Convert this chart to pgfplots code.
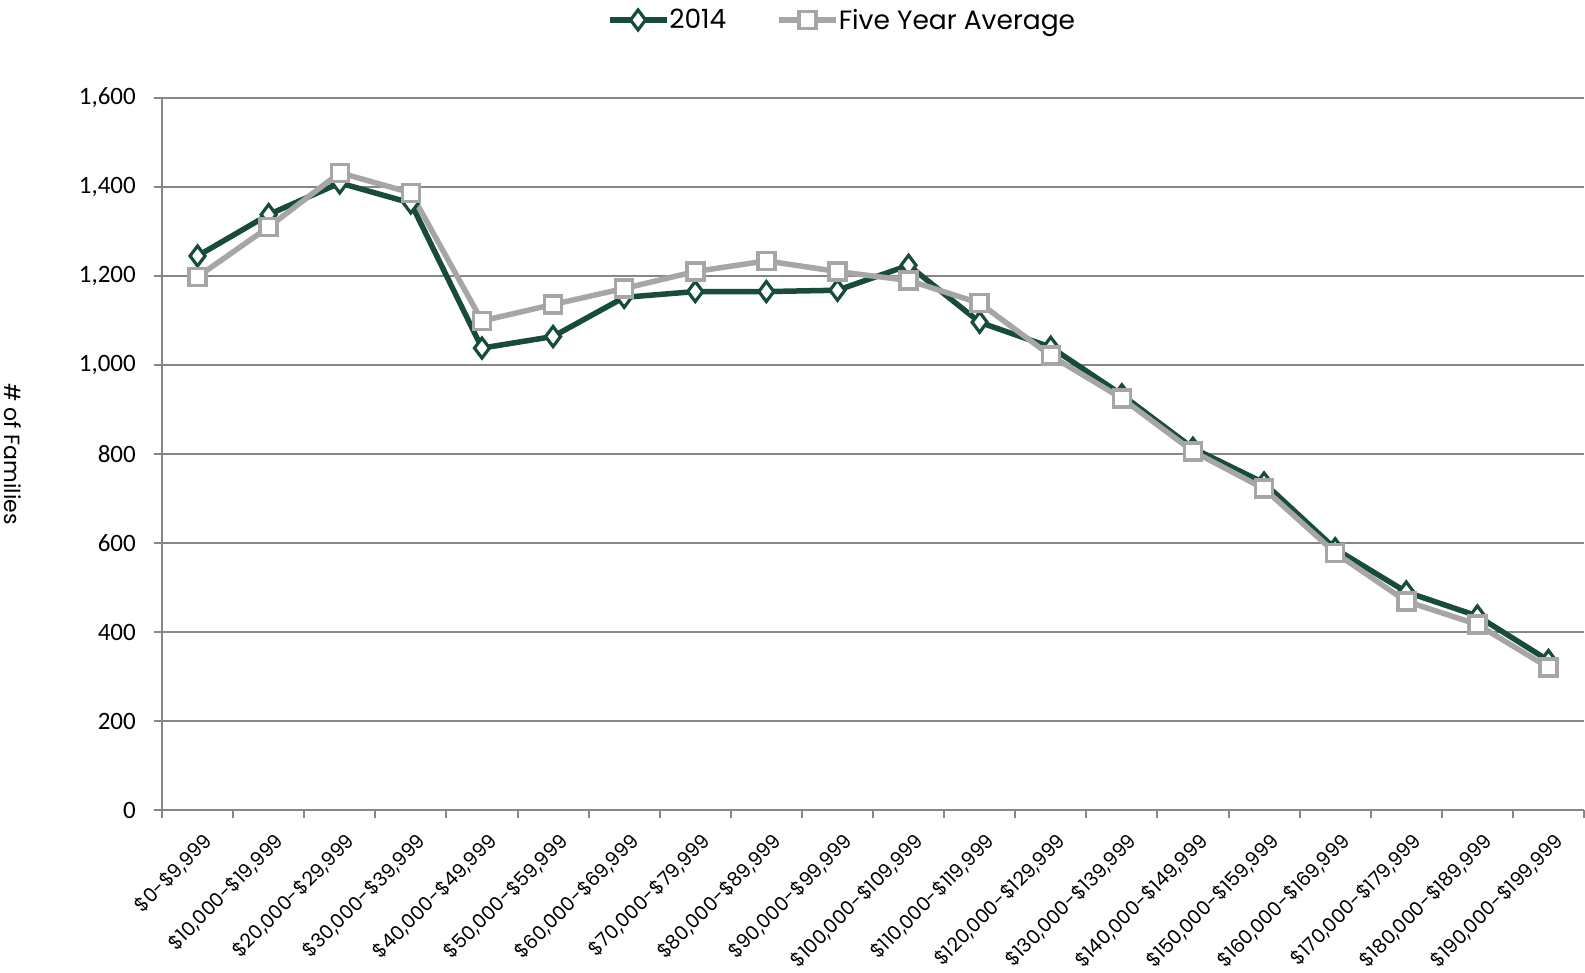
\documentclass[border=0pt]{standalone}
\usepackage{pgfplots}
\pgfplotsset{compat=1.18}
\usepackage{fontspec}
\setmainfont{Poppins}
\newfontfamily\calib{Carlito}
\definecolor{dkgreen}{RGB}{23,75,58}
\definecolor{ltgray}{RGB}{166,166,166}
\definecolor{gridgray}{RGB}{134,134,134}
\begin{document}
\begin{tikzpicture}
\useasboundingbox (0,0) rectangle (1585pt,972pt);
\begin{axis}[
  at={(162pt,162pt)}, anchor=south west,
  scale only axis, width=1422pt, height=712pt,
  xmin=-0.5, xmax=19.5, ymin=0, ymax=1600,
  axis x line*=bottom, axis y line*=left,
  axis line style={gridgray, line width=2pt},
  tick style={gridgray, line width=2pt},
  major tick length=8pt,
  tick align=outside,
  ymajorgrids,
  major grid style={gridgray, line width=2pt},
  ytick={0,200,400,600,800,1000,1200,1400,1600},
  yticklabels={0,200,400,600,800,{1,000},{1,200},{1,400},{1,600}},
  yticklabel style={font=\calib\fontsize{25}{25}\selectfont, anchor=east, inner sep=0pt, xshift=-18pt},
  xtick={-0.5,0.5,...,19.5},
  x tick label as interval,
  xticklabels={{\$0-\$9,999},{\$10,000-\$19,999},{\$20,000-\$29,999},{\$30,000-\$39,999},{\$40,000-\$49,999},{\$50,000-\$59,999},{\$60,000-\$69,999},{\$70,000-\$79,999},{\$80,000-\$89,999},{\$90,000-\$99,999},{\$100,000-\$109,999},{\$110,000-\$119,999},{\$120,000-\$129,999},{\$130,000-\$139,999},{\$140,000-\$149,999},{\$150,000-\$159,999},{\$160,000-\$169,999},{\$170,000-\$179,999},{\$180,000-\$189,999},{\$190,000-\$199,999}},
  xticklabel style={font=\fontsize{19.5}{19.5}\selectfont, rotate=45, anchor=north east, inner sep=0pt, yshift=-13pt, xshift=-6pt},
  ylabel={\# of Families},
  ylabel style={font=\fontsize{22}{22}\selectfont, rotate=180, at={(axis description cs:-0.1048,0.5)}, anchor=center},
  legend style={draw=none, fill=none, font=\fontsize{26.5}{26.5}\selectfont,
    at={(axis description cs:0.4775,1.1096)}, anchor=center,
    legend columns=2, nodes={inner xsep=0pt},
    /tikz/every even column/.append style={column sep=50pt}},
  legend image code/.code={
    \draw[#1, mark repeat=2, mark phase=2] plot coordinates {(0pt,0pt) (28.5pt,0pt) (57pt,0pt)};
  },
]
\addplot[color=dkgreen, line width=5.5pt, mark=diamond*, mark size=10pt,
  mark options={fill=white, line width=3.2pt}]
  coordinates {(0,1245) (1,1338) (2,1409) (3,1364) (4,1038) (5,1064) (6,1152) (7,1165) (8,1165) (9,1168) (10,1224) (11,1096) (12,1040) (13,933) (14,813) (15,735) (16,587) (17,490) (18,436) (19,336)};
\addlegendentry{2014}
\addplot[color=ltgray, line width=5.5pt, mark=square*, mark size=8.5pt,
  mark options={fill=white, line width=3.5pt}]
  coordinates {(0,1198) (1,1310) (2,1432) (3,1387) (4,1099) (5,1136) (6,1172) (7,1210) (8,1234) (9,1210) (10,1190) (11,1139) (12,1021) (13,925) (14,806) (15,722) (16,578) (17,469) (18,417) (19,320)};
\addlegendentry{Five Year Average}
\end{axis}
\end{tikzpicture}
\end{document}
